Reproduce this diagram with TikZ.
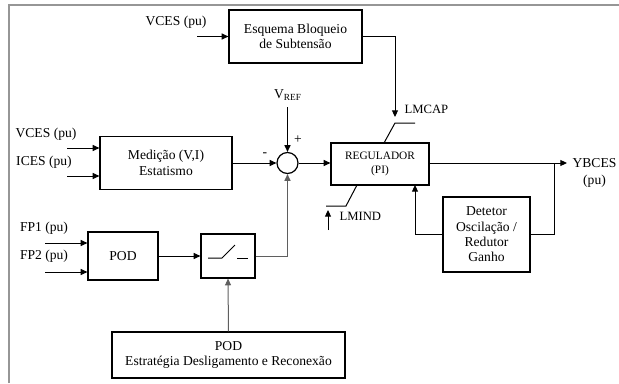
\documentclass[tikz,border=0pt]{standalone}
\usepackage{fontspec}
\setmainfont{Liberation Serif}
\usetikzlibrary{
    arrows.meta,
    positioning,
    shapes.geometric
}
\definecolor{ink}{RGB}{0,0,0}
\definecolor{framegrey}{RGB}{150,150,150}
\definecolor{wiregrey}{RGB}{95,95,95}
\tikzset{
    block/.style={
        rectangle,
        draw=ink,
        line width=0.9pt,
        fill=white,
        align=center,
        inner sep=2pt,
        font=\normalfont\fontsize{10.2}{11.5}\selectfont,
        text=ink
    },
    smallblock/.style={
        block,
        font=\normalfont\fontsize{8.5}{10.5}\selectfont
    },
    sumnode/.style={
        circle,
        draw=ink,
        line width=0.9pt,
        fill=white,
        minimum size=15.75pt,
        inner sep=0pt
    },
    signal/.style={
        -{Triangle[length=5pt,width=4.5pt]},
        draw=ink,
        line width=0.75pt
    },
    greysignal/.style={
        signal,
        draw=wiregrey
    },
    wire/.style={
        -,
        draw=ink,
        line width=0.75pt
    },
    annot/.style={
        font=\normalfont\fontsize{10.2}{11.5}\selectfont,
        text=ink,
        inner sep=1pt,
        align=center
    },
    limitannot/.style={
        annot,
        font=\normalfont\fontsize{9.5}{11}\selectfont
    }
}

\begin{document}
\begin{tikzpicture}[x=0.75pt, y=-0.75pt]
\useasboundingbox (0,0) rectangle (619,383);

% Frame
\draw[framegrey, line width=0.9pt] (9,383) -- (9,5) -- (619,5);

% Blocks
\node[block, minimum width=99.75pt, minimum height=39.75pt] (esquema) at (295.5,36.5) {Esquema Bloqueio\\de Subtensão};
\node[block, minimum width=99pt, minimum height=39.75pt] (medicao) at (166,163) {Medição (V,I)\\Estatismo};
\node[sumnode] (sum) at (287.5,163) {};
\node[smallblock, minimum width=73.5pt, minimum height=31.5pt] (regulador) at (380,164) {REGULADOR\\(PI)};
\node[block, minimum width=65.25pt, minimum height=56.25pt] (detetor) at (486.5,234.5) {Detetor\\Oscilação /\\Redutor\\Ganho};
\node[block, minimum width=52.5pt, minimum height=36pt] (pod) at (123,256) {POD};
\node[block, minimum width=40.5pt, minimum height=33pt] (chave) at (228,256) {};
\node[block, minimum width=174.75pt, minimum height=34.5pt] (estrategia) at (228.5,355) {POD\\Estratégia Desligamento e Reconexão};

% Switch symbol
\draw[wire] (208,258) -- (222,258) -- (235,245);
\draw[wire] (237,258) -- (248,258);

% Input signals
\coordinate (vcesA) at (197,36.5);
\coordinate (vcesB) at (67,148);
\coordinate (ices) at (67,176);
\coordinate (fpA) at (45,243);
\coordinate (fpB) at (45,272);
\node[annot] (lblvcesA) at (176,22) {VCES (pu)};
\node[annot] (lblvcesB) at (46,134) {VCES (pu)};
\node[annot] (lblices) at (44,162) {ICES (pu)};
\node[annot] (lblfpA) at (44,228) {FP1 (pu)};
\node[annot] (lblfpB) at (44,256) {FP2 (pu)};
\draw[signal] (vcesA) -- (esquema.west |- vcesA);
\draw[signal] (vcesB) -- (medicao.west |- vcesB);
\draw[signal] (ices) -- (medicao.west |- ices);
\draw[signal] (fpA) -- (pod.west |- fpA);
\draw[signal] (fpB) -- (pod.west |- fpB);

% Reference and summing junction
\node[annot] (vref) at (287.5,95) {V\raisebox{-0.4ex}{\fontsize{7}{8}\selectfont REF}};
\coordinate (vreftop) at (287.5,107);
\draw[signal] (vreftop) -- (sum.north);
\node[annot] (plus) at (298,140) {+};
\node[annot] (minus) at (265,155) {-};
\draw[signal] (medicao.east) -- (sum.west);
\draw[signal] (sum.east) -- (regulador.west |- sum.east);

% Limits
\coordinate (lmcapin) at (395,117);
\draw[wire] (esquema.east |- 0,36.5) -| (395,90);
\draw[signal] (395,90) -- (lmcapin);
\node[limitannot, anchor=west] (lmcap) at (403,109) {LMCAP};
\draw[wire] (384,143) -- (395,123) -- (415,123);
\draw[wire] (357,185) -- (346,206) -- (326,206);
\coordinate (lmindin) at (328,230);
\draw[signal] (lmindin) -- (328,210);
\node[limitannot, anchor=west] (lmind) at (338,216) {LMIND};

% Output and feedback
\coordinate (ybces) at (567,163);
\coordinate (tap) at (554,163);
\draw[signal] (regulador.east |- tap) -- (ybces);
\node[annot, anchor=west] (lblybces) at (571,173) {YBCES\\[1pt](pu)};
\draw[wire] (tap) |- (detetor.east);
\draw[signal] (detetor.west) -| (415,185);

% POD path
\draw[signal] (pod.east) -- (chave.west);
\draw[greysignal] (chave.east) -| (sum.south);
\draw[greysignal] (estrategia.north) -- (chave.south);
\end{tikzpicture}
\end{document}
